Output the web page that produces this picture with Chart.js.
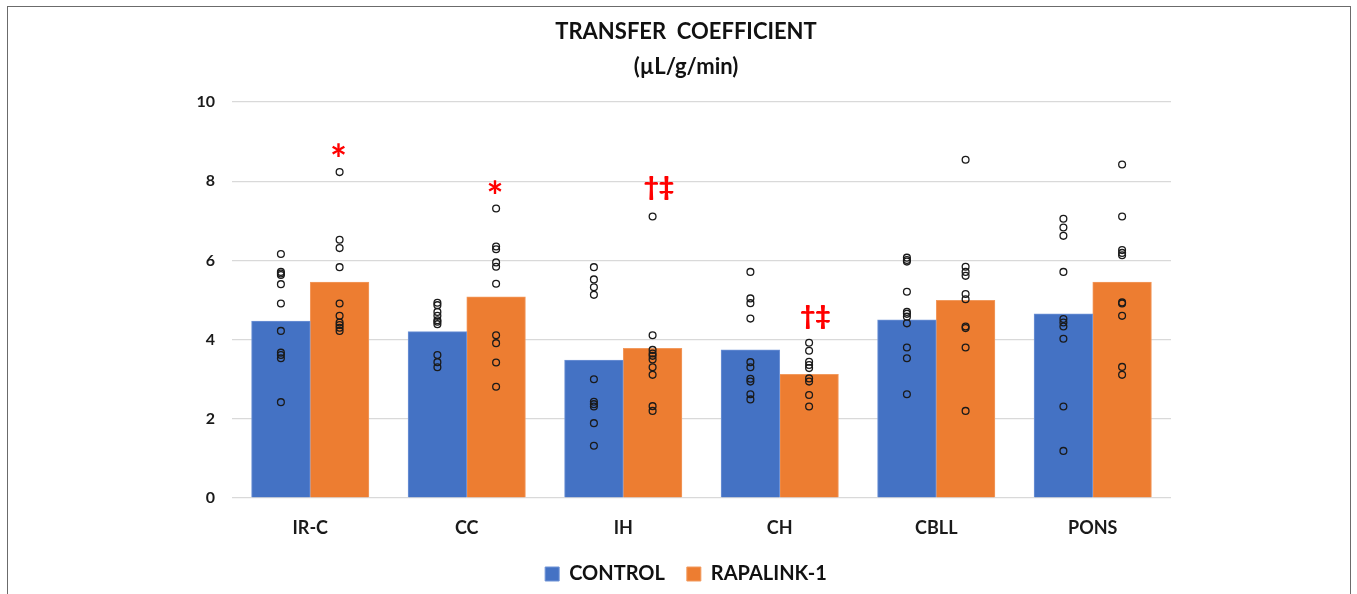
<!DOCTYPE html>
<html>
<head>
<meta charset="utf-8">
<script src="https://cdn.jsdelivr.net/npm/chart.js@4.4.1/dist/chart.umd.min.js"></script>
<style>
  html, body { margin: 0; padding: 0; background: #ffffff; overflow: hidden; }
  #wrap { position: relative; width: 1357px; height: 594px; }
  #frame { position: absolute; left: 7px; top: 6px; width: 1344px; height: 700px; border: 1.5px solid #6b6b6b; box-sizing: border-box; pointer-events: none; }
  canvas { position: absolute; left: 0; top: 0; }
</style>
</head>
<body>
<div id="wrap">
  <canvas id="c" width="1357" height="594"></canvas>
  <div id="frame"></div>
</div>
<script>
const categories = ['IR-C', 'CC', 'IH', 'CH', 'CBLL', 'PONS'];
const seriesNames = ['CONTROL', 'RAPALINK-1'];
const controlMeans = [4.47, 4.20, 3.48, 3.74, 4.50, 4.65];
const rapalinkMeans = [5.45, 5.08, 3.78, 3.12, 4.99, 5.45];
const controlPoints = [
  [6.16, 5.71, 5.67, 5.63, 5.40, 4.91, 4.22, 3.67, 3.61, 3.53, 2.42],
  [4.93, 4.87, 4.70, 4.60, 4.49, 4.45, 4.39, 3.61, 3.43, 3.30],
  [5.83, 5.52, 5.32, 5.13, 3.00, 2.43, 2.37, 2.31, 1.89, 1.32],
  [5.71, 5.04, 4.92, 4.53, 3.43, 3.30, 3.01, 2.94, 2.62, 2.49],
  [6.07, 6.01, 5.97, 5.21, 4.70, 4.65, 4.58, 4.41, 3.80, 3.53, 2.62],
  [7.05, 6.83, 6.62, 5.71, 4.52, 4.43, 4.33, 4.02, 2.31, 1.19]
];
const rapalinkPoints = [
  [8.23, 6.52, 6.31, 5.83, 4.91, 4.60, 4.43, 4.37, 4.30, 4.22],
  [7.31, 6.35, 6.28, 5.95, 5.84, 5.41, 4.11, 3.91, 3.42, 2.81],
  [7.11, 4.11, 3.74, 3.65, 3.59, 3.50, 3.30, 3.11, 2.32, 2.20],
  [3.92, 3.72, 3.44, 3.36, 3.28, 3.02, 2.94, 2.60, 2.31],
  [8.54, 5.84, 5.71, 5.61, 5.15, 5.02, 4.33, 4.29, 3.80, 2.20],
  [8.42, 7.11, 6.26, 6.19, 6.13, 4.94, 4.91, 4.60, 3.31, 3.11]
];
const annotLabels = ['*', '*', '\u2020\u2021', '\u2020\u2021', '', ''];
const annotValues = [8.79, 7.86, 7.82, 4.56, null, null];
const yTicks = [0, 2, 4, 6, 8, 10];
const titleLines = ['TRANSFER  COEFFICIENT', '(\u00b5L/g/min)'];

const FONT = 'Lato, "Open Sans", "Liberation Sans", sans-serif';
const BLUE = '#4472C4';
const ORANGE = '#ED7D31';
const CAT_PCT = 0.75;
const OFF = CAT_PCT / 4;
const PLOT_WIDTH = 939;
const BAR_THICKNESS = PLOT_WIDTH / categories.length * CAT_PCT / 2;

function toPoints(groups, sign) {
  const out = [];
  groups.forEach((arr, i) => arr.forEach(v => out.push({ x: i + sign * OFF, y: v })));
  return out;
}
function toBars(means, sign) {
  return means.map((v, i) => ({ x: i + sign * OFF, y: v }));
}

const annotPlugin = {
  id: 'annot',
  afterDatasetsDraw(chart) {
    const ctx = chart.ctx;
    const xs = chart.scales.xs;
    const y = chart.scales.y;
    ctx.save();
    ctx.fillStyle = '#FF0000';
    ctx.textAlign = 'center';
    ctx.textBaseline = 'alphabetic';
    annotLabels.forEach((lab, i) => {
      if (!lab || annotValues[i] == null) return;
      const isStar = lab === '*';
      const size = isStar ? 40 : 26;
      ctx.font = 'bold ' + size + 'px ' + FONT;
      const m = ctx.measureText(lab);
      const px = xs.getPixelForValue(i + OFF) + (isStar ? -1 : 6);
      const py = y.getPixelForValue(annotValues[i]);
      const yy = py + (m.actualBoundingBoxAscent - m.actualBoundingBoxDescent) / 2;
      ctx.fillText(lab, px, yy);
      if (!isStar) { ctx.fillText(lab, px + 0.6, yy); }
    });
    ctx.restore();
  }
};

const scatterCommon = { type: 'scatter', xAxisID: 'xs', yAxisID: 'y', pointRadius: 3.4, pointBorderWidth: 1.3, pointBorderColor: '#1a1a1a', pointBackgroundColor: 'rgba(0,0,0,0)', order: 1 };
const barCommon = { type: 'bar', xAxisID: 'xs', yAxisID: 'y', grouped: false, borderWidth: 1, barThickness: BAR_THICKNESS, order: 2 };

new Chart(document.getElementById('c'), {
  data: {
    labels: categories,
    datasets: [
      Object.assign({ label: seriesNames[0], data: toBars(controlMeans, -1), backgroundColor: BLUE, borderColor: '#6f93d6' }, barCommon),
      Object.assign({ label: seriesNames[1], data: toBars(rapalinkMeans, 1), backgroundColor: ORANGE, borderColor: '#f29a5e' }, barCommon),
      Object.assign({ label: 'ctrl-pts', data: toPoints(controlPoints, -1) }, scatterCommon),
      Object.assign({ label: 'rapa-pts', data: toPoints(rapalinkPoints, 1) }, scatterCommon)
    ]
  },
  options: {
    responsive: false,
    animation: false,
    devicePixelRatio: 1,
    layout: { padding: { top: 0, bottom: 0, left: 180, right: 165 } },
    scales: {
      x: {
        type: 'category',
        labels: categories,
        offset: true,
        grid: { display: false, drawTicks: false },
        border: { display: false },
        ticks: { color: '#1a1a1a', font: { family: FONT, size: 18, weight: 'bold' }, padding: 19 },
        afterFit(s) { s.height = 44; }
      },
      xs: {
        type: 'linear',
        display: false,
        offset: false,
        min: -0.5,
        max: categories.length - 0.5
      },
      y: {
        position: 'left',
        min: 0,
        max: 10,
        afterBuildTicks(s) { s.ticks = yTicks.map(v => ({ value: v })); },
        grid: { color: '#d9d9d9', lineWidth: 1.3, drawTicks: false },
        border: { display: false },
        ticks: { color: '#1a1a1a', font: { family: FONT, size: 16, weight: 'bold' }, padding: 17 },
        afterFit(s) { s.width = 52; }
      },
      yr: {
        position: 'right',
        min: 0,
        max: 10,
        grid: { display: false, drawTicks: false },
        border: { display: false },
        ticks: { display: false },
        afterFit(s) { s.width = 21; }
      }
    },
    plugins: {
      title: {
        display: true,
        text: titleLines,
        color: '#111',
        font: { family: FONT, size: 22, weight: 'bold', lineHeight: 1.6 },
        padding: { top: 14, bottom: 17.6 }
      },
      legend: {
        position: 'bottom',
        labels: {
          color: '#111',
          boxWidth: 14,
          boxHeight: 14,
          padding: 22,
          font: { family: FONT, size: 20, weight: 'bold' },
          filter: (item) => item.datasetIndex < 2
        }
      },
      tooltip: { enabled: false }
    }
  },
  plugins: [annotPlugin]
});
</script>
</body>
</html>
